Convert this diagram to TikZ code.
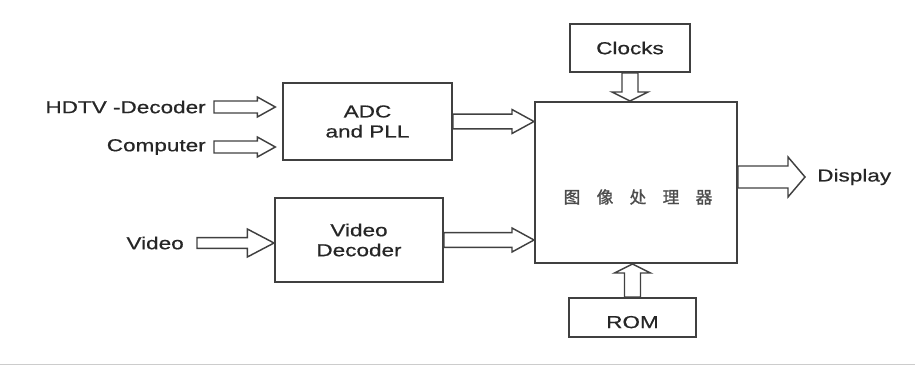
\documentclass[tikz,border=0pt]{standalone}
\usepackage{fontspec}
\setmainfont[FakeStretch=1.3, FakeBold=0.6]{Liberation Sans}
\newfontfamily\cjk[FakeBold=1.2]{Noto Sans CJK SC}
\usetikzlibrary{calc}

\begin{document}
\begin{tikzpicture}[
    x=0.75pt, y=-0.75pt,
    box/.style={rectangle, draw=black!75, line width=1.5pt, font=\fontsize{13}{15}\selectfont, text=black!85, align=center, inner sep=0pt},
    lbl/.style={font=\fontsize{13}{15}\selectfont, text=black!85, inner sep=0pt},
    fat/.style args={#1/#2/#3}{draw=black!75, line width=1.1pt, line join=miter, to path={
        ($(\tikztotarget)!#3!(\tikztostart)$) coordinate (fb)
        ($(\tikztostart)!#1!90:(\tikztotarget)$)
        -- ($(fb)!#1!-90:(\tikztostart)$) -- ($(fb)!#2!-90:(\tikztostart)$)
        -- (\tikztotarget)
        -- ($(fb)!#2!90:(\tikztostart)$) -- ($(fb)!#1!90:(\tikztostart)$)
        -- ($(\tikztostart)!#1!-90:(\tikztotarget)$) -- cycle}}
]
    \useasboundingbox (0,0) rectangle (915,368);

    % Blocks
    \node[box, minimum width=126.75pt, minimum height=57.75pt] (adc) at (367.5,121.5) {ADC\\and PLL};
    \node[box, minimum width=126pt, minimum height=63pt] (vdec) at (359,240) {Video\\Decoder};
    \node[box, minimum width=151.5pt, minimum height=120.75pt] (proc) at (636,182.5) {};
    \node[font={\cjk\fontsize{12.5}{14}\selectfont\spaceskip=12.25pt\relax}, text=black!70] (proctxt) at (638,197) {图 像 处 理 器};
    \node[box, minimum width=90pt, minimum height=36pt] (clk) at (630,48) {Clocks};
    \node[box, minimum width=95.25pt, minimum height=29.25pt, text height=16pt] (rom) at (632.5,317.5) {ROM};

    % Signals in and out
    \node[lbl, anchor=east] (hdtv) at (206,107) {HDTV -Decoder};
    \node[lbl, anchor=east] (comp) at (206,147) {Computer};
    \node[lbl, anchor=east] (video) at (184,243) {Video};
    \node[lbl, anchor=west] (disp) at (817,177) {Display};

    % Wide arrows
    \draw[fat=4.5pt/7.5pt/13.5pt] ([xshift=6pt]hdtv.east) to ([xshift=-5pt]adc.west |- hdtv.east);
    \draw[fat=4.5pt/7.5pt/13.5pt] ([xshift=6pt]comp.east) to ([xshift=-5pt]adc.west |- comp.east);
    \draw[fat=4.1pt/10.5pt/20pt] ([xshift=9.75pt]video.east) to (vdec.west |- video.east);
    \draw[fat=5.6pt/9pt/16.5pt] (adc.east) to (proc.west |- adc.east);
    \draw[fat=5.6pt/9pt/16.5pt] (vdec.east) to (proc.west |- vdec.east);
    \draw[fat=6pt/13.5pt/6.75pt] (clk.south) to (proc.north -| clk.south);
    \draw[fat=6pt/13.5pt/6.75pt] (rom.north) to (proc.south -| rom.north);
    \draw[fat=8.25pt/15pt/12.75pt] (proc.east |- disp.west) to ([xshift=-9pt]disp.west);

    % page edge
    \draw[black!20, line width=0.75pt] (0,364) -- (915,364);
\end{tikzpicture}
\end{document}
